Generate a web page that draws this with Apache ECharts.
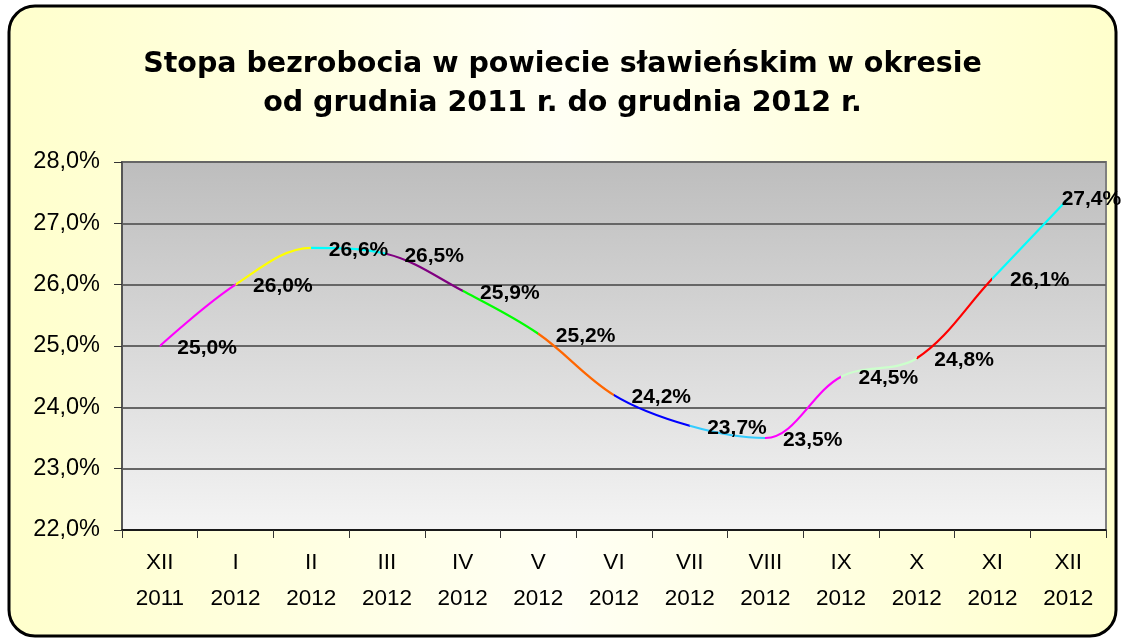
<!DOCTYPE html>
<html>
<head>
<meta charset="utf-8">
<script src="https://cdn.jsdelivr.net/npm/echarts@6/dist/echarts.min.js"></script>
<style>
  html, body { margin: 0; padding: 0; background: #fff; }
  #chart { width: 1125px; height: 643px; }
</style>
</head>
<body>
<div id="chart"></div>
<script>
  // dane z wykresu
  const months = ['XII', 'I', 'II', 'III', 'IV', 'V', 'VI', 'VII', 'VIII', 'IX', 'X', 'XI', 'XII']
  const years = ['2011', '2012', '2012', '2012', '2012', '2012', '2012', '2012', '2012', '2012', '2012', '2012', '2012']
  const rate = [25.0, 26.0, 26.6, 26.5, 25.9, 25.2, 24.2, 23.7, 23.5, 24.5, 24.8, 26.1, 27.4]
  // kolor kazdego odcinka linii
  const segmentColors = ['#FF00FF', '#FFFF00', '#00FFFF', '#800080', '#00FF00', '#FF6600',
                         '#0000FF', '#33CCFF', '#FF00FF', '#CCFFCC', '#FF0000', '#00FFFF']

  const categories = months.map((m, i) => m + '\n' + years[i])
  const pieces = segmentColors.map((c, i) => ({ gte: i, lt: i + 1, color: c }))

  const fmt = v => v.toFixed(1).replace('.', ',') + '%'

  // ostatnia etykieta przesunieta w lewo, zeby sie zmiescila
  const seriesData = rate.map((v, i) => i === rate.length - 1
    ? { value: v, label: { offset: [-24, 0] } }
    : v)

  const chartObj = echarts.init(document.getElementById('chart'))
  const option = {
    animation: false,
    graphic: [{
      type: 'rect',
      z: -10,
      shape: { x: 9, y: 6, width: 1107, height: 630, r: 26 },
      style: {
        fill: new echarts.graphic.LinearGradient(0, 0, 1, 0, [
          { offset: 0, color: '#FFFFCC' },
          { offset: 0.5, color: '#FFFFF4' },
          { offset: 1, color: '#FFFFCC' }
        ]),
        stroke: '#000',
        lineWidth: 3
      }
    }],
    title: {
      text: 'Stopa bezrobocia w powiecie sławieńskim w okresie\nod grudnia 2011 r. do grudnia 2012 r.',
      left: 'center',
      top: 40,
      textStyle: {
        fontFamily: 'DejaVu Sans',
        fontWeight: 'bold',
        fontSize: 28.5,
        lineHeight: 39,
        color: '#000'
      }
    },
    grid: {
      left: 122, right: 19, top: 162, bottom: 113,
      show: true,
      backgroundColor: new echarts.graphic.LinearGradient(0, 0, 0, 1, [
        { offset: 0, color: '#BDBDBD' },
        { offset: 1, color: '#F4F4F4' }
      ]),
      borderColor: '#808080',
      borderWidth: 2
    },
    visualMap: {
      show: false,
      type: 'piecewise',
      dimension: 0,
      seriesIndex: 0,
      pieces: pieces
    },
    xAxis: {
      type: 'category',
      data: categories,
      boundaryGap: true,
      axisLine: { lineStyle: { color: '#000', width: 1.5 } },
      axisTick: { show: true, length: 8, lineStyle: { color: '#333' } },
      axisLabel: {
        fontFamily: 'Liberation Sans',
        fontSize: 22.5,
        lineHeight: 36,
        color: '#000',
        margin: 15,
        interval: 0
      }
    },
    yAxis: {
      type: 'value',
      min: 22,
      max: 28,
      interval: 1,
      axisLine: { show: true, lineStyle: { color: '#555', width: 2 } },
      axisTick: { show: true, length: 8, lineStyle: { color: '#333' } },
      splitLine: { lineStyle: { color: '#666', width: 2 } },
      axisLabel: {
        formatter: fmt,
        fontFamily: 'Liberation Sans',
        fontSize: 23.5,
        color: '#000',
        margin: 22
      }
    },
    series: [{
      type: 'line',
      data: seriesData,
      smooth: 0.35,
      symbol: 'circle',
      symbolSize: 1,
      lineStyle: { width: 2.2 },
      label: {
        show: true,
        position: 'right',
        distance: 17,
        offset: [0, 2],
        formatter: p => fmt(p.value),
        fontFamily: 'Liberation Sans',
        fontWeight: 'bold',
        fontSize: 21,
        color: '#000'
      }
    }]
  }
  chartObj.setOption(option)
</script>
</body>
</html>
